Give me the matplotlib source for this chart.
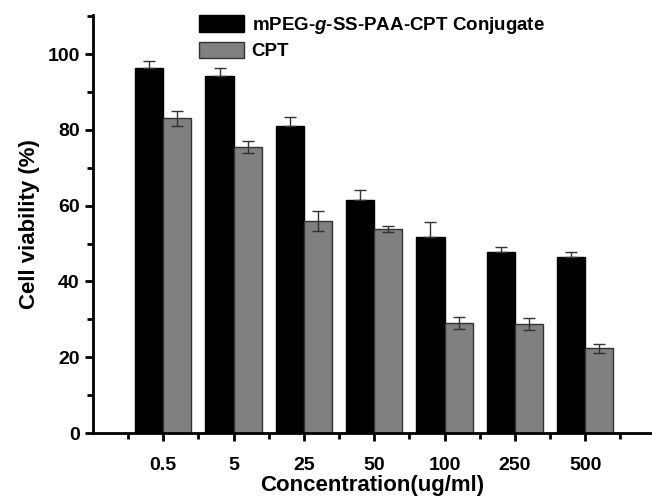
#Imports:
import numpy as np
import matplotlib
matplotlib.use("Agg")
import matplotlib.pyplot as plt
from matplotlib.ticker import MultipleLocator, FixedLocator

#Data:
concentrations = ["0.5", "5", "25", "50", "100", "250", "500"]
conjugate = [96.4, 94.1, 81.1, 61.6, 51.8, 47.8, 46.4]
conjugate_err = [1.9, 2.3, 2.2, 2.6, 3.9, 1.4, 1.3]
cpt = [83.0, 75.5, 55.9, 53.8, 29.1, 28.8, 22.4]
cpt_err = [2.0, 1.6, 2.6, 0.7, 1.6, 1.5, 1.2]

plt.rcParams['font.family'] = ['Liberation Sans', 'DejaVu Sans']
plt.rcParams['font.weight'] = 'bold'
plt.rcParams['mathtext.fontset'] = 'custom'
plt.rcParams['mathtext.it'] = 'Liberation Sans:italic:bold'
plt.rcParams['mathtext.rm'] = 'Liberation Sans:bold'

fig = plt.figure(figsize=(6.52, 5.01), dpi=100)
ax = fig.add_axes([0.1426, 0.1357, 0.8574, 0.8343])

x = np.arange(1, len(concentrations) + 1)
w = 0.4
err_style = dict(ecolor="#333333", elinewidth=1.0, capsize=4, capthick=1.0)

#Black bars only show the upper half of the error bar
ax.bar(x - w / 2, conjugate, w, color="black", edgecolor="black", linewidth=1,
       yerr=[np.zeros(len(conjugate)), conjugate_err], error_kw=err_style,
       label="mPEG-$\\mathit{g}$-SS-PAA-CPT Conjugate")
ax.bar(x + w / 2, cpt, w, color="#808080", edgecolor="#333333", linewidth=1,
       yerr=cpt_err, error_kw=err_style, label="CPT")

#Axes styling:
ax.set_xlim(0, 7.95)
ax.set_ylim(0, 110.3)
ax.set_xticks(x)
ax.set_xticklabels(concentrations)
ax.xaxis.set_minor_locator(FixedLocator(np.arange(0.5, 8, 1)))
ax.set_yticks([0, 20, 40, 60, 80, 100])
ax.yaxis.set_minor_locator(MultipleLocator(10))

for side in ["top", "right"]:
    ax.spines[side].set_visible(False)
for side in ["left", "bottom"]:
    ax.spines[side].set_linewidth(2)

ax.tick_params(which="major", direction="out", length=6, width=2, labelsize=14)
ax.tick_params(which="minor", direction="out", length=4, width=2)
ax.tick_params(axis="x", pad=11)

ax.set_ylabel("Cell viability (%)", fontsize=16, fontweight="bold", labelpad=5)
ax.set_xlabel("Concentration(ug/ml)", fontsize=16, fontweight="bold", labelpad=1)

ax.legend(loc="upper left", bbox_to_anchor=(0.19, 1.0), frameon=False, fontsize=13.5,
          handlelength=2.4, handleheight=0.95, labelspacing=0.3, handletextpad=0.4,
          borderaxespad=0, borderpad=0)

fig.savefig("out.png", dpi=100)
